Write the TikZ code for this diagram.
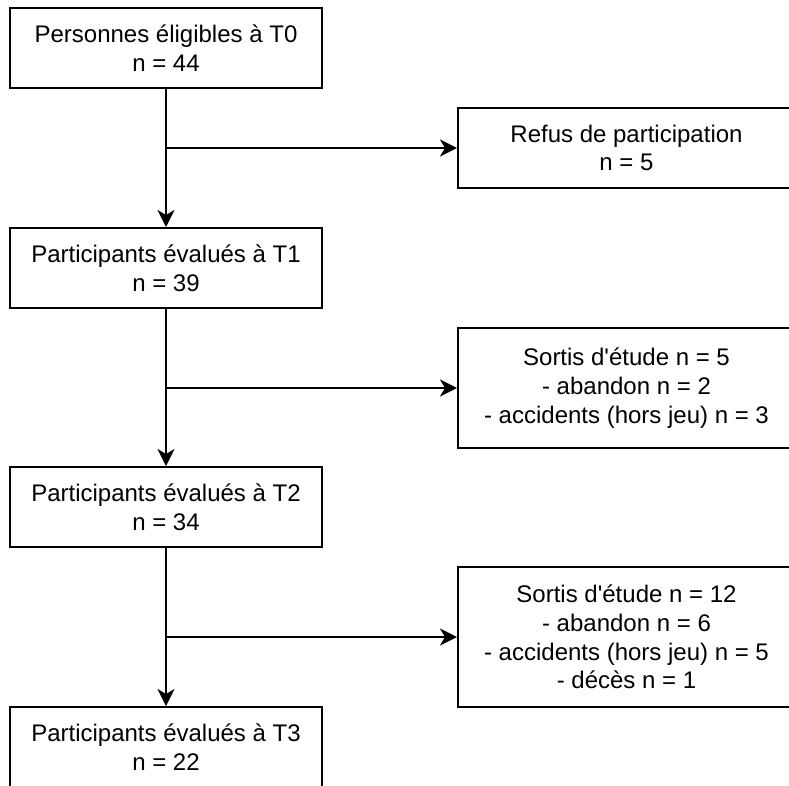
\documentclass[tikz,border=0pt]{standalone}
\usepackage{fontspec}
\setmainfont{Liberation Sans}
\usetikzlibrary{arrows.meta}
\begin{document}
\begin{tikzpicture}[x=1pt,y=-1pt,
  box/.style={draw=black, line width=2pt, align=center, inner sep=0pt,
    font=\fontsize{24}{28.8}\selectfont},
  leftbox/.style={box, minimum width=312pt, minimum height=80pt},
  rightbox/.style={box, minimum width=337pt},
  flow/.style={draw=black, line width=2pt, -{Stealth[length=17pt,width=17pt,inset=5pt]}}]
\useasboundingbox (0,0) rectangle (789,785);
\node[leftbox] (t0) at (166,48) {Personnes éligibles à T0\\n = 44};
\node[leftbox] (t1) at (166,268) {Participants évalués à T1\\n = 39};
\node[leftbox] (t2) at (166,507) {Participants évalués à T2\\n = 34};
\node[leftbox] (t3) at (166,747) {Participants évalués à T3\\n = 22};
\node[rightbox, minimum height=80pt] (r1) at (626.5,148) {Refus de participation\\n = 5};
\node[rightbox, minimum height=120pt] (r2) at (626.5,388) {Sortis d\textquotesingle étude n = 5\\- abandon n = 2\\- accidents (hors jeu) n = 3};
\node[rightbox, minimum height=140pt] (r3) at (626.5,637) {Sortis d\textquotesingle étude n = 12\\- abandon n = 6\\- accidents (hors jeu) n = 5\\- décès n = 1};
\draw[flow] (t0.south) -- (t1.north);
\draw[flow] (t1.south) -- (t2.north);
\draw[flow] (t2.south) -- (t3.north);
\draw[flow] (t0.south |- r1.west) -- (r1.west);
\draw[flow] (t1.south |- r2.west) -- (r2.west);
\draw[flow] (t2.south |- r3.west) -- (r3.west);
\end{tikzpicture}
\end{document}
